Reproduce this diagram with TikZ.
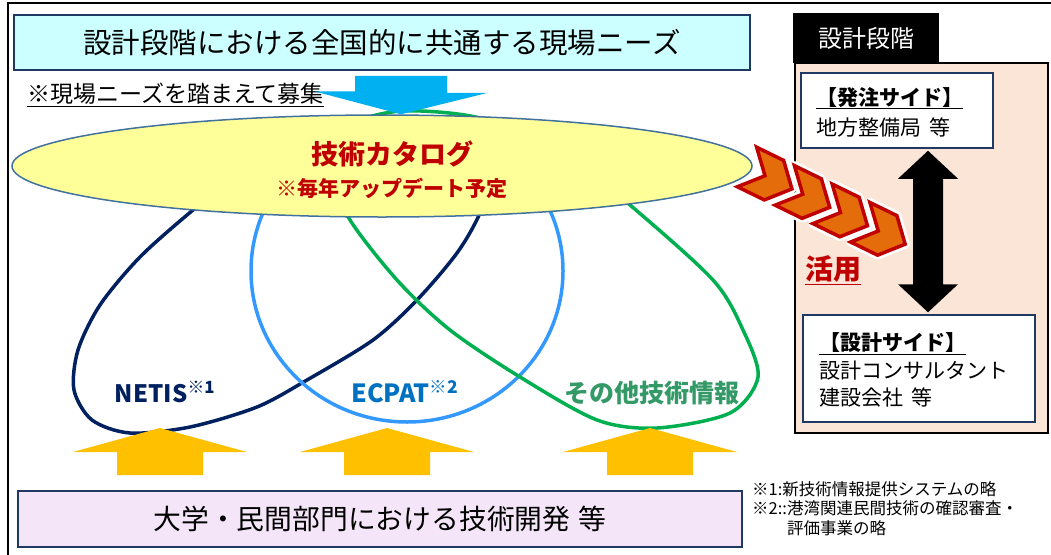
\documentclass[tikz,border=0pt]{standalone}
\usepackage{fontspec}
\setmainfont{Noto Sans CJK JP}
\usetikzlibrary{calc,shapes.geometric}
\definecolor{navy}{HTML}{1F3864}
\definecolor{netis}{HTML}{002060}
\definecolor{ecpat}{HTML}{3399FF}
\definecolor{ecpattxt}{HTML}{0070C0}
\definecolor{other}{HTML}{00B050}
\definecolor{othertxt}{HTML}{339966}
\definecolor{needs}{HTML}{CCFFFF}
\definecolor{catfill}{HTML}{FFFF99}
\definecolor{catline}{HTML}{41719C}
\definecolor{darkred}{HTML}{C00000}
\definecolor{peach}{HTML}{FBE5D6}
\definecolor{lilac}{HTML}{F4E6F8}
\definecolor{gold}{HTML}{FFC000}
\definecolor{sky}{HTML}{00B0F0}
\definecolor{chev}{HTML}{E46C0A}
\newcommand\fs[2]{\fontsize{#1}{#2}\selectfont}
\begin{document}
\begin{tikzpicture}[x=1pt,y=-1pt,
 box/.style={draw=navy,line width=1.5pt,inner sep=0pt},
 loop/.style={line width=3.5pt},
 chevron/.style={fill=chev,draw=darkred,line width=3.5pt,preaction={draw=white,line width=9pt,line join=round}}]
\useasboundingbox(0,0)rectangle(1051,554);
%frame
\draw[line width=1.5pt](8,560)--(8,3)--(1060,3);
%loops
\draw[loop,netis]plot[smooth cycle]coordinates{(193,210)(140,257)(100,305)(78,350)(74,390)(92,420)(130,433)(190,427)(257,407)(307,380)(373,340)(417,300)(457,253)(480,213)(498,160)(470,128)(330,135)(250,165)};
\draw[loop,ecpat](407,271)ellipse[x radius=156,y radius=151];
\draw[loop,other]plot[smooth cycle]coordinates{(347,215)(397,280)(450,330)(520,377)(597,420)(657,428)(730,413)(758,377)(743,330)(713,280)(630,205)(560,150)(480,118)(402,111)(350,125)(330,160)};
%catalogue
\node[ellipse,draw=catline,fill=catfill,line width=1.5pt,minimum width=740pt,minimum height=102pt,inner sep=0pt](cat)at(382,166){};
\node[text=darkred,font=\bfseries\fs{27}{32},align=center](cattxt)at(392,170){技術カタログ\\\fs{21}{32}※毎年アップデート予定};
\node[box,fill=needs,minimum width=736pt,minimum height=55pt](needs)at(382,42.5){\fs{28.5}{30}設計段階における全国的に共通する現場ニーズ};
\node[anchor=west,inner sep=0pt](bosyu)at(27,95){\fs{23}{26}\underline{※現場ニーズを踏まえて募集}};
\coordinate(ba)at(401,0);
\fill[sky]($(needs.south -| ba)+(-46,5)$)--++(92,0)--++(0,17)--++(41,0)--(cat.north -| ba)--++(-87,-23)--++(41,0)--cycle;
%labels
\node[text=netis,font=\bfseries](netis)at(165,392){\fs{24}{26}NETIS\textsuperscript{※1}};
\node[text=ecpattxt,font=\bfseries](ecpat)at(405,392){\fs{25}{26}ECPAT\textsuperscript{※2}};
\node[text=othertxt,font=\bfseries](other)at(652,393){\fs{25}{28}その他技術情報};
%development
\foreach \x in {160,387,650}
 \fill[gold](\x,428)--++(87,24)--++(-44,0)--++(0,23)--++(-86,0)--++(0,-23)--++(-44,0)--cycle;
\node[box,fill=lilac,minimum width=724pt,minimum height=56pt](dev)at(380,519){\fs{27.8}{30}大学・民間部門における技術開発\hspace{0.3em}等};
\node[anchor=north west,align=left,inner sep=0pt,font=\fs{16.5}{19.5}](note)at(752,481){※1:新技術情報提供システムの略\\※2::港湾関連民間技術の確認審査・\\\phantom{※2::}評価事業の略};
%design stage
\node[draw,fill=peach,line width=1.5pt,minimum width=253pt,minimum height=370pt,inner sep=0pt](side)at(921.5,248){};
\node[fill=black,text=white,minimum width=146pt,minimum height=50pt,inner sep=0pt](tab)at(866,38){\fs{24}{28}設計段階};
\node[box,fill=white,minimum width=192pt,minimum height=75pt](hatchu)at(897,110.5){};
\node[anchor=west,align=left,inner sep=0pt,font=\fs{21}{30}](hatxt)at(816,112){\textbf{\underline{【発注サイド】}}\\地方整備局\hspace{0.4em}等};
\node[box,fill=white,minimum width=232pt,minimum height=107pt](sekkei)at(919,368.5){};
\node[anchor=west,align=left,inner sep=0pt,font=\fs{21}{27.5}](sktxt)at(819,370){\textbf{\underline{【設計サイド】}}\\設計コンサルタント\\建設会社\hspace{0.4em}等};
\coordinate(ya)at(928,0);
\fill($(hatchu.south -| ya)+(0,2)$)--++(30,28)--++(-15,0)--($(sekkei.north -| ya)+(15,-30)$)--++(15,0)--++(-30,28)--++(-30,-28)--++(15,0)--($(hatchu.south -| ya)+(-15,30)$)--++(-15,0)--cycle;
\node[text=darkred,font=\bfseries](katsuyo)at(833,270){\fs{28}{30}\underline{活用}};
%chevrons
\begin{scope}[shift={(747,167)},rotate=-26]
\foreach \i in {0,42,84,126}
 \draw[chevron](\i,-22)--++(30,0)--++(20,22)--++(-20,22)--++(-30,0)--++(20,-22)--cycle;
\end{scope}
\end{tikzpicture}
\end{document}
